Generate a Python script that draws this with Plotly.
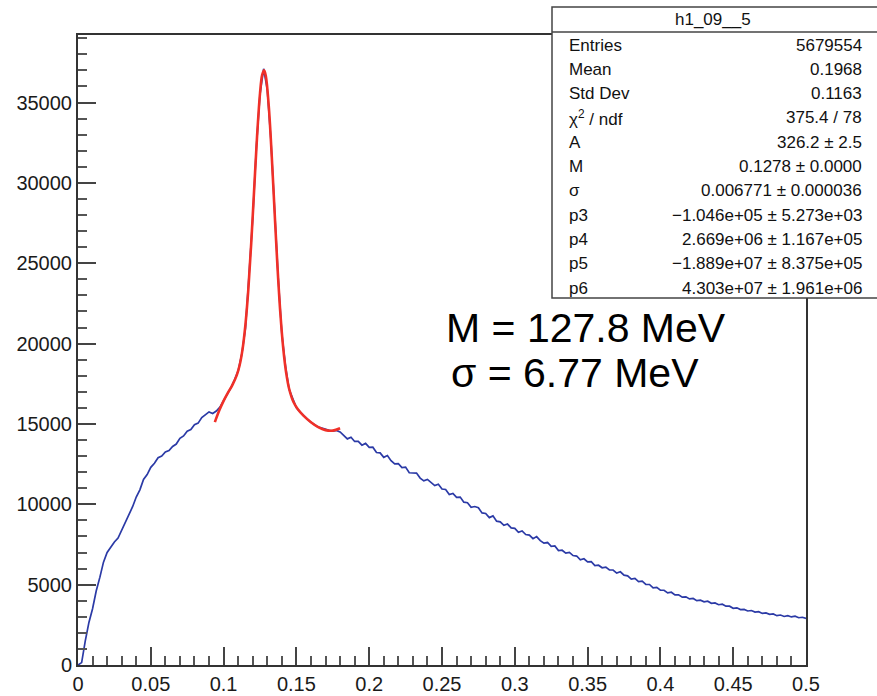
import numpy as np
import plotly.graph_objects as go

# ---------------- data ----------------
bin_width = 0.0025
hist_y = [
    0, 150, 1500, 2650, 3500, 4600, 5450, 6400, 7000, 7350,
    7650, 7900, 8400, 8800, 9400, 9850, 10450, 10900, 11550, 11850,
    12300, 12550, 12900, 13000, 13250, 13350, 13600, 13750, 14100, 14250,
    14550, 14650, 14950, 15050, 15400, 15550, 15750, 15650, 15800, 16050,
    16450, 16800, 17250, 17750, 18300, 19350, 20950, 24300, 27800, 32200,
    35500, 37100, 35800, 32650, 28200, 24100, 20600, 18600, 17150, 16550,
    16000, 15750, 15500, 15300, 15100, 14950, 14800, 14750, 14650, 14600,
    14550, 14600, 14500, 14310, 14070, 14170, 13910, 13910, 13680, 13790,
    13540, 13550, 13220, 13200, 12920, 13030, 12710, 12510, 12530, 12280,
    12310, 11960, 11950, 11940, 11630, 11460, 11550, 11370, 11160, 11250,
    10950, 10920, 10610, 10680, 10430, 10450, 10130, 10100, 9810, 9860,
    9780, 9460, 9430, 9170, 9280, 8950, 8910, 8690, 8770, 8530,
    8500, 8260, 8340, 8120, 8080, 7860, 7990, 7740, 7580, 7620,
    7380, 7410, 7120, 7140, 6960, 7010, 6810, 6780, 6540, 6610,
    6420, 6430, 6190, 6210, 6050, 6090, 5910, 5910, 5720, 5800,
    5590, 5550, 5350, 5390, 5190, 5220, 5020, 5010, 4800, 4830,
    4650, 4650, 4490, 4530, 4360, 4370, 4220, 4240, 4110, 4140,
    4000, 4030, 3930, 3970, 3840, 3860, 3750, 3780, 3660, 3660,
    3530, 3560, 3450, 3460, 3360, 3390, 3290, 3320, 3210, 3240,
    3150, 3180, 3070, 3110, 3020, 3070, 2990, 3040, 2940, 2970,
    2900,
]
hist_x = np.arange(len(hist_y)) * bin_width

fit_x = [0.094, 0.097, 0.100, 0.103, 0.106, 0.109, 0.111, 0.113, 0.115,
         0.117, 0.119, 0.121, 0.123, 0.125, 0.1265, 0.1278, 0.129, 0.131,
         0.133, 0.135, 0.137, 0.139, 0.141, 0.143, 0.145, 0.148, 0.151,
         0.155, 0.160, 0.165, 0.170, 0.175, 0.180]
fit_y = [15110, 15830, 16435, 16945, 17420, 18020, 18650, 19640, 21180,
         23390, 26280, 29620, 32920, 35560, 36720, 37010, 36650, 34790,
         31780, 28240, 24790, 21870, 19670, 18160, 17190, 16360, 15910,
         15500, 15110, 14800, 14615, 14585, 14735]

x_ticks = [0, 0.05, 0.1, 0.15, 0.2, 0.25, 0.3, 0.35, 0.4, 0.45, 0.5]
x_tick_labels = ["0", "0.05", "0.1", "0.15", "0.2", "0.25", "0.3", "0.35", "0.4", "0.45", "0.5"]
y_ticks = [0, 5000, 10000, 15000, 20000, 25000, 30000, 35000]
y_tick_labels = ["0", "5000", "10000", "15000", "20000", "25000", "30000", "35000"]

stats_title = "h1_09__5"
stats_labels = ["Entries", "Mean", "Std Dev", "χ<sup>2</sup> / ndf", "A", "M", "σ",
                "p3", "p4", "p5", "p6"]
stats_values = ["5679554", "0.1968", "0.1163", "375.4 / 78", "326.2 ± 2.5",
                "0.1278 ± 0.0000", "0.006771 ± 0.000036",
                "−1.046e+05 ± 5.273e+03", "2.669e+06 ± 1.167e+05",
                "−1.889e+07 ± 8.375e+05", "4.303e+07 ± 1.961e+06"]

note_lines = ["M = 127.8 MeV", "σ = 6.77 MeV"]

# ---------------- layout helpers ----------------
W, H = 877, 696
L, R, T, B = 78, 806, 35, 665


def px(xp):
    return (xp - L) / (R - L)


def py(yp):
    return (B - yp) / (B - T)


fig = go.Figure()
fig.add_trace(go.Scatter(x=hist_x, y=hist_y, mode="lines",
                         line=dict(color="#2b3aa6", width=1.7),
                         showlegend=False, hoverinfo="skip"))
fig.add_trace(go.Scatter(x=fit_x, y=fit_y, mode="lines",
                         line=dict(color="#f03028", width=2.6, shape="spline"),
                         showlegend=False, hoverinfo="skip"))

tick_font = dict(family="Liberation Sans, Arial", size=20, color="#1a1a1a")

fig.update_xaxes(range=[0, 0.5], tickmode="array", tickvals=x_ticks,
                 ticktext=x_tick_labels, ticks="inside", ticklen=18, tickwidth=2,
                 tickcolor="#444", showline=True, linecolor="#333", linewidth=2,
                 mirror=True, showgrid=False, zeroline=False, tickfont=tick_font,
                 automargin=False,
                 minor=dict(tickmode="linear", tick0=0, dtick=0.01, ticks="inside",
                            ticklen=9, tickwidth=2, tickcolor="#555", showgrid=False))
fig.update_yaxes(range=[0, 39200], tickmode="array", tickvals=y_ticks,
                 ticktext=y_tick_labels, ticks="inside", ticklen=18, tickwidth=2,
                 tickcolor="#444", showline=True, linecolor="#333", linewidth=2,
                 mirror=True, showgrid=False, zeroline=False, tickfont=tick_font,
                 automargin=False,
                 minor=dict(tickmode="linear", tick0=0, dtick=1000, ticks="inside",
                            ticklen=9, tickwidth=2, tickcolor="#555", showgrid=False))

shapes = [
    dict(type="rect", xref="paper", yref="paper", x0=px(552), x1=px(885),
         y0=py(298), y1=py(7), fillcolor="white", line=dict(color="#444", width=1.5),
         layer="above"),
    dict(type="line", xref="paper", yref="paper", x0=px(552), x1=px(885),
         y0=py(32), y1=py(32), line=dict(color="#444", width=1.5), layer="above"),
]

stat_font = dict(family="Liberation Sans, Arial", size=17, color="#111")
annotations = [
    dict(xref="paper", yref="paper", x=px(713), y=py(19), text=stats_title,
         showarrow=False, xanchor="center", yanchor="middle", font=stat_font)
]
for i, (lab, val) in enumerate(zip(stats_labels, stats_values)):
    yc = 45 + 24.3 * i
    annotations.append(dict(xref="paper", yref="paper", x=px(567), y=py(yc), text=lab,
                            showarrow=False, xanchor="left", yanchor="middle",
                            font=stat_font))
    annotations.append(dict(xref="paper", yref="paper", x=px(864), y=py(yc), text=val,
                            showarrow=False, xanchor="right", yanchor="middle",
                            font=stat_font))

note_font = dict(family="Liberation Sans, Arial", size=41, color="#000")
annotations.append(dict(xref="paper", yref="paper", x=px(444), y=py(328),
                        text=note_lines[0], showarrow=False, xanchor="left",
                        yanchor="middle", font=note_font))
annotations.append(dict(xref="paper", yref="paper", x=px(449), y=py(373),
                        text=note_lines[1], showarrow=False, xanchor="left",
                        yanchor="middle", font=note_font))

fig.update_layout(width=W, height=H, margin=dict(l=L, r=W - R, t=T, b=H - B),
                  paper_bgcolor="white", plot_bgcolor="white",
                  shapes=shapes, annotations=annotations, showlegend=False)

fig.write_html("out.html")
